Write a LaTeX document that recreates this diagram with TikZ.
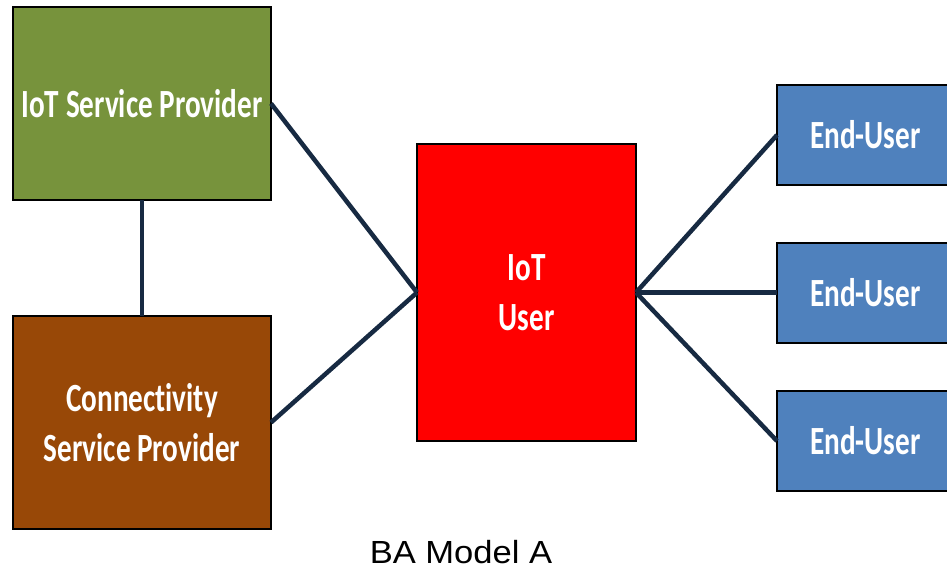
\documentclass[tikz,border=0pt]{standalone}
\usepackage{fontspec}
\newfontfamily\boxfont[FakeStretch=0.73, Ligatures=NoCommon]{Carlito}
\newfontfamily\capfont[FakeStretch=1.08]{Liberation Sans}
\definecolor{ispgreen}{HTML}{77933C}
\definecolor{cspbrown}{HTML}{984807}
\definecolor{userred}{HTML}{FF0000}
\definecolor{endblue}{HTML}{4F81BD}
\definecolor{linknavy}{HTML}{172A42}
\tikzset{
  x=1pt, y=1pt,
  actor/.style={draw=black, line width=2pt, text=white, align=center,
    inner sep=0pt, outer sep=0pt,
    font=\boxfont\bfseries\fontsize{40}{50}\selectfont},
  link/.style={draw=linknavy, line width=4.5pt},
}
\begin{document}
\begin{tikzpicture}
\useasboundingbox (0,0) rectangle (947,-571);
\clip (0,0) rectangle (947,-571);

% providers on the left
\node[actor, fill=ispgreen, minimum width=258, minimum height=193]
  (isp) at (142,-103.5) {IoT Service Provider};
\node[actor, fill=cspbrown, minimum width=258, minimum height=213]
  (csp) at (142,-422.5) {Connectivity\\Service Provider};

% the IoT user in the middle
\node[actor, fill=userred, minimum width=219, minimum height=297]
  (user) at (526.5,-292.5) {IoT\\User};

% end-users on the right
\node[actor, fill=endblue, minimum width=177, minimum height=100]
  (eu1) at (865.5,-135) {End-User};
\node[actor, fill=endblue, minimum width=177, minimum height=100]
  (eu2) at (865.5,-292.5) {End-User};
\node[actor, fill=endblue, minimum width=177, minimum height=100]
  (eu3) at (865.5,-441) {End-User};

% connections
\draw[link] (isp.south) -- (csp.north);
\draw[link] (isp.east) -- (user.west);
\draw[link] (csp.east) -- (user.west);
\draw[link] (user.east) -- (eu1.west);
\draw[link] (user.east) -- (eu2.west);
\draw[link] (user.east) -- (eu3.west);

% caption
\node[font=\capfont\fontsize{32}{38}\selectfont, inner sep=0pt]
  (caption) at (461,-552) {BA Model A};
\end{tikzpicture}
\end{document}
